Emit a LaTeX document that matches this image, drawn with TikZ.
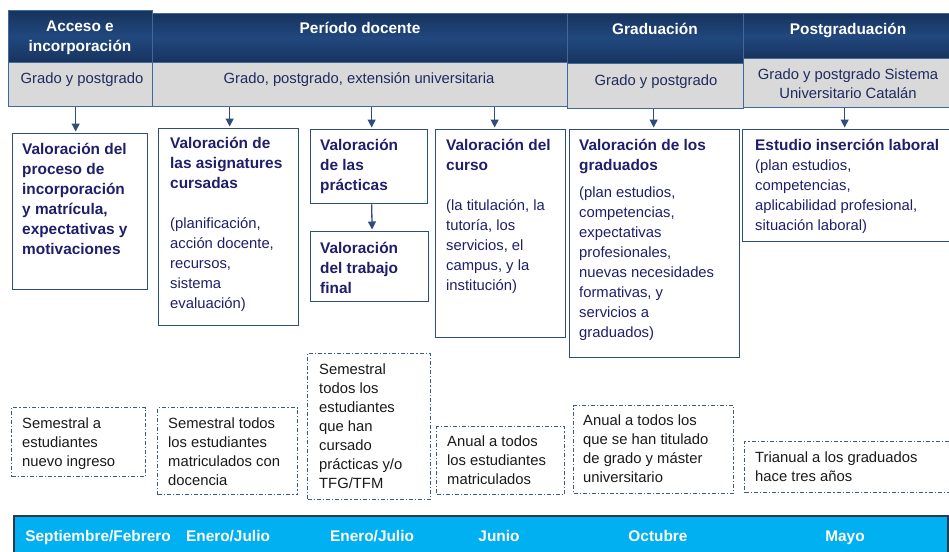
\documentclass[tikz,border=0pt]{standalone}
\usepackage{fontspec}
\setmainfont{Liberation Sans}
\usetikzlibrary{positioning,arrows.meta}

\definecolor{hdrdark}{HTML}{17335E}
\definecolor{hdrmid}{HTML}{21487E}
\definecolor{hdrline}{HTML}{41689A}
\definecolor{graybg}{HTML}{D9D9D9}
\definecolor{navy}{HTML}{1E1E6A}
\definecolor{graytxt}{HTML}{1F2B5E}
\definecolor{boxline}{HTML}{2F4C7A}
\definecolor{dashline}{HTML}{3D5B86}
\definecolor{barblue}{HTML}{00B0F0}
\definecolor{barline}{HTML}{2B3A4A}

\tikzset{
	headbox/.style={anchor=north west, inner sep=0pt, draw=hdrline, line width=1.2pt, top color=hdrdark, bottom color=hdrdark, middle color=hdrmid},
	subbox/.style={anchor=north west, inner sep=0pt, draw=hdrline, line width=1.2pt, fill=graybg},
	valbox/.style={anchor=north west, inner sep=0pt, draw=boxline, line width=1.3pt},
	freqbox/.style={anchor=north west, inner sep=0pt, draw=dashline, line width=1.2pt, dash pattern=on 4pt off 2pt on 1.2pt off 2pt},
	headtxt/.style={anchor=base, inner sep=0pt, align=center, text=white, font=\fontsize{15.4}{20}\selectfont\bfseries},
	subtxt/.style={anchor=base, inner sep=0pt, align=center, text=graytxt, font=\fontsize{14.8}{19.5}\selectfont},
	valtitle/.style={anchor=base west, inner sep=0pt, align=left, text=navy, font=\fontsize{15.4}{20}\selectfont\bfseries},
	valbody/.style={anchor=base west, inner sep=0pt, align=left, text=navy, font=\fontsize{14.8}{20}\selectfont},
	freqtxt/.style={anchor=base west, inner sep=0pt, align=left, text=black!90, font=\fontsize{14.8}{19}\selectfont},
	month/.style={anchor=base, inner sep=0pt, text=white, font=\fontsize{15.4}{18}\selectfont\bfseries},
	conn/.style={->, draw=boxline, line width=1.3pt, shorten >=1.5pt},
}

\begin{document}
\begin{tikzpicture}[x=1pt, y=-1pt, >={Triangle[length=8pt,width=8pt]}]
	\useasboundingbox (0,0) rectangle (949,551);
	\clip (0,0) rectangle (949,551);
	% cabecera (texts: anchor base = last line)
	\node[headbox, minimum width=415pt, minimum height=49pt] (doc) at (152,13) {};
	\node[headbox, minimum width=144pt, minimum height=52pt] (acc) at (8,10) {};
	\node[headbox, minimum width=176pt, minimum height=50pt] (gra) at (567,13) {};
	\node[headbox, minimum width=210pt, minimum height=45pt] (pos) at (743,13) {};
	\node[subbox, minimum width=144pt, minimum height=44pt] (accS) at (8,62) {};
	\node[subbox, minimum width=415pt, minimum height=44pt] (docS) at (152,62) {};
	\node[subbox, minimum width=176pt, minimum height=45pt] (graS) at (567,63) {};
	\node[subbox, minimum width=210pt, minimum height=49pt] (posS) at (743,58) {};
	\node[headtxt] (accT) at (80,52) {Acceso e\\incorporación};
	\node[headtxt] (docT) at (360,34) {Período docente};
	\node[headtxt] (graT) at (655,35) {Graduación};
	\node[headtxt] (posT) at (848,35) {Postgraduación};
	\node[subtxt] (accST) at (82,83) {Grado y postgrado};
	\node[subtxt] (docST) at (359,83) {Grado, postgrado, extensión universitaria};
	\node[subtxt] (graST) at (656,85) {Grado y postgrado};
	\node[subtxt] (posST) at (848,98.5) {Grado y postgrado Sistema\\Universitario Catalán};

	% valoraciones
	\node[valbox, minimum width=135pt, minimum height=156pt] (v1) at (12,133) {};
	\node[valbox, minimum width=140pt, minimum height=197pt] (v2) at (158,128) {};
	\node[valbox, minimum width=117pt, minimum height=74pt] (v3) at (310,129) {};
	\node[valbox, minimum width=118pt, minimum height=70pt] (v3b) at (310,231) {};
	\node[valbox, minimum width=130pt, minimum height=208pt] (v4) at (435,129) {};
	\node[valbox, minimum width=170pt, minimum height=228pt] (v5) at (569,129) {};
	\node[valbox, minimum width=210pt, minimum height=112pt] (v6) at (742,129) {};
	\node[valtitle] (v1t) at (22,254) {Valoración del\\proceso de\\incorporación\\y matrícula,\\expectativas y\\motivaciones};
	\node[valtitle] (v2t) at (170,188) {Valoración de\\las asignatures\\cursadas};
	\node[valbody] (v2b) at (170,308) {(planificación,\\acción docente,\\recursos,\\sistema\\evaluación)};
	\node[valtitle] (v3t) at (320,190) {Valoración\\de las\\prácticas};
	\node[valtitle] (v3bt) at (320,293) {Valoración\\del trabajo\\final};
	\node[valtitle] (v4t) at (446,170) {Valoración del\\curso};
	\node[valbody] (v4b) at (446,290) {(la titulación, la\\tutoría, los\\servicios, el\\campus, y la\\institución)};
	\node[valtitle] (v5t) at (579,170) {Valoración de los\\graduados};
	\node[valbody] (v5b) at (579,337) {(plan estudios,\\competencias,\\expectativas\\profesionales,\\nuevas necesidades\\formativas, y\\servicios a\\graduados)};
	\node[valtitle] (v6t) at (755,150) {Estudio inserción laboral};
	\node[valbody] (v6b) at (755,230) {(plan estudios,\\competencias,\\aplicabilidad profesional,\\situación laboral)};

	\draw[conn] ([xshift=-4.5pt]v1.north |- accS.south) -- ([xshift=-4.5pt]v1.north);
	\draw[conn] ([xshift=1pt]v2.north |- docS.south) -- ([xshift=1pt]v2.north);
	\draw[conn] ([xshift=2.5pt]v3.north |- docS.south) -- ([xshift=2.5pt]v3.north);
	\draw[conn] ([xshift=2.5pt]v3.south) -- ([xshift=2.5pt]v3b.north);
	\draw[conn] ([xshift=-6pt]v4.north |- docS.south) -- ([xshift=-6pt]v4.north);
	\draw[conn] ([xshift=-1pt]v5.north |- graS.south) -- ([xshift=-1pt]v5.north);
	\draw[conn] ([xshift=-3pt]v6.north |- posS.south) -- ([xshift=-3pt]v6.north);

	% frecuencia
	\node[freqbox, minimum width=134pt, minimum height=69pt] (f1) at (11,407) {};
	\node[freqbox, minimum width=140pt, minimum height=87pt] (f2) at (157,407) {};
	\node[freqbox, minimum width=123pt, minimum height=146pt] (f3) at (307,353) {};
	\node[freqbox, minimum width=128pt, minimum height=68pt] (f4) at (436,426) {};
	\node[freqbox, minimum width=160pt, minimum height=88pt] (f5) at (573,405) {};
	\node[freqbox, minimum width=210pt, minimum height=51pt] (f6) at (744,441) {};
	\node[freqtxt] (f1t) at (22,466) {Semestral a\\estudiantes\\nuevo ingreso};
	\node[freqtxt] (f2t) at (168,485) {Semestral todos\\los estudiantes\\matriculados con\\docencia};
	\node[freqtxt] (f3t) at (319,488) {Semestral\\todos los\\estudiantes\\que han\\cursado\\prácticas y/o\\TFG/TFM};
	\node[freqtxt] (f4t) at (447,484) {Anual a todos\\los estudiantes\\matriculados};
	\node[freqtxt] (f5t) at (583,482) {Anual a todos los\\que se han titulado\\de grado y máster\\universitario};
	\node[freqtxt] (f6t) at (755,481) {Trianual a los graduados\\hace tres años};

	% meses
	\node[anchor=north west, inner sep=0pt, draw=barline, line width=1.5pt, fill=barblue, minimum width=934pt, minimum height=45pt] (bar) at (13,515) {};
	\node[month] (m1) at (98,541) {Septiembre/Febrero};
	\node[month] (m2) at (228,541) {Enero/Julio};
	\node[month] (m3) at (372,541) {Enero/Julio};
	\node[month] (m4) at (499,541) {Junio};
	\node[month] (m5) at (658,541) {Octubre};
	\node[month] (m6) at (845,541) {Mayo};
\end{tikzpicture}
\end{document}
